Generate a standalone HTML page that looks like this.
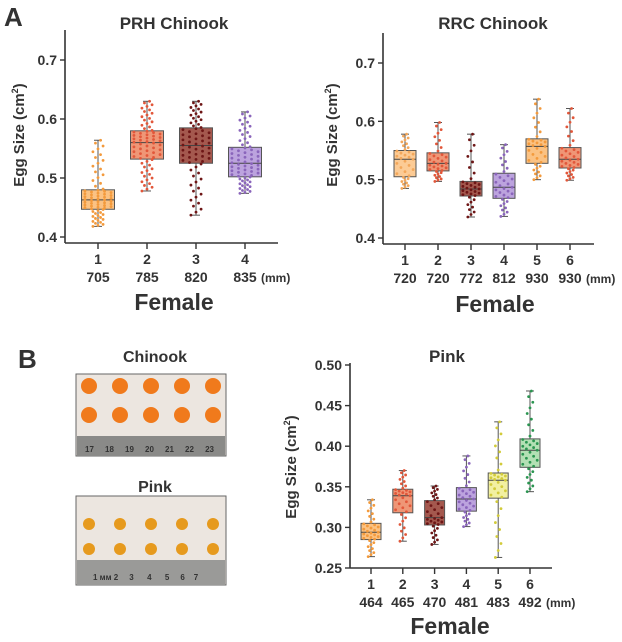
<!DOCTYPE html>
<html><head><meta charset="utf-8"><style>
html,body{margin:0;padding:0;background:#fff;}
svg text{font-family:"Liberation Sans",sans-serif;font-weight:bold;fill:#333;}
</style></head><body>
<svg id="fig" width="622" height="637" viewBox="0 0 622 637" xmlns="http://www.w3.org/2000/svg">
<text x="4" y="26" font-size="26" fill="#111">A</text>
<text x="18" y="368" font-size="26" fill="#111">B</text>
<g>
<text x="155" y="362" font-size="16" text-anchor="middle" fill="#444">Chinook</text>
<rect x="76" y="374" width="150" height="82" fill="#ece6e0" stroke="#666"/>
<rect x="77" y="436" width="148" height="20" fill="#8a8a88"/>
<text x="85" y="452" font-size="8" fill="#222" font-family="Liberation Serif">17 &#160;&#160;&#160;&#160;18 &#160;&#160;&#160;&#160;19 &#160;&#160;&#160;&#160;20 &#160;&#160;&#160;&#160;21 &#160;&#160;&#160;&#160;22 &#160;&#160;&#160;&#160;23</text>
<text x="155" y="492" font-size="16" text-anchor="middle" fill="#444">Pink</text>
<rect x="76" y="496" width="150" height="89" fill="#ece6e0" stroke="#666"/>
<rect x="77" y="560" width="148" height="25" fill="#9a9a98"/>
<text x="93" y="580" font-size="8" fill="#222">1 мм 2 &#160;&#160;&#160;&#160;3 &#160;&#160;&#160;&#160;&#160;4 &#160;&#160;&#160;&#160;&#160;5 &#160;&#160;&#160;&#160;6 &#160;&#160;&#160;7</text>
<g id="eggs"></g>
</g>
</svg>
<script>
// PRH Chinook data
const prhCats = ["1","2","3","4"];
const prhLens = ["705","785","820","835"];
const prhMin = [0.418,0.478,0.437,0.474];
const prhQ1  = [0.447,0.532,0.525,0.502];
const prhMed = [0.463,0.560,0.555,0.525];
const prhQ3  = [0.480,0.580,0.585,0.552];
const prhMax = [0.564,0.630,0.630,0.612];
const prhTicks = [0.4,0.5,0.6,0.7];
// RRC Chinook data
const rrcCats = ["1","2","3","4","5","6"];
const rrcLens = ["720","720","772","812","930","930"];
const rrcMin = [0.485,0.497,0.436,0.437,0.500,0.499];
const rrcQ1  = [0.505,0.515,0.472,0.468,0.528,0.520];
const rrcMed = [0.535,0.528,0.484,0.487,0.557,0.535];
const rrcQ3  = [0.550,0.546,0.497,0.511,0.570,0.555];
const rrcMax = [0.578,0.598,0.578,0.560,0.638,0.622];
const rrcTicks = [0.4,0.5,0.6,0.7];
// Pink data
const pinkCats = ["1","2","3","4","5","6"];
const pinkLens = ["464","465","470","481","483","492"];
const pinkMin = [0.264,0.283,0.279,0.301,0.263,0.344];
const pinkQ1  = [0.285,0.318,0.303,0.320,0.336,0.374];
const pinkMed = [0.294,0.339,0.312,0.335,0.358,0.395];
const pinkQ3  = [0.305,0.347,0.333,0.349,0.367,0.409];
const pinkMax = [0.334,0.370,0.351,0.388,0.430,0.468];
const pinkTicks = [0.25,0.30,0.35,0.40,0.45,0.50];

const NS="http://www.w3.org/2000/svg";
const svg=document.getElementById('fig');
function mk(tag,attrs,parent){const e=document.createElementNS(NS,tag);for(const k in attrs)e.setAttribute(k,attrs[k]);(parent||svg).appendChild(e);return e;}

const C={orange:["#f39a3c","#fbc283"],red:["#e2573a","#ef9676"],dark:["#6e1616","#a4584e"],purple:["#8a65bb","#bca3de"],lorange:["#f3a75a","#fccb95"],yellow:["#d2cb3a","#f2f0a2"],green:["#2a9550","#b3e0b4"]};

function chart(o){
  const g=mk('g',{});
  
  
  const y=v=>o.y0+(v-o.v0)/(o.v1-o.v0)*(o.y1-o.y0);
  const x=i=>o.xs0+i*o.dx;
  const ya=mk('line',{x1:o.ax,y1:o.top,x2:o.ax,y2:o.ay,stroke:"#333","stroke-width":1.6},g);
  
  const xa=mk('line',{x1:o.ax,y1:o.ay,x2:o.axEnd,y2:o.ay,stroke:"#333","stroke-width":1.6},g);
  
  o.ticks.forEach(t=>{
    mk('line',{x1:o.ax-5,y1:y(t),x2:o.ax,y2:y(t),stroke:"#333","stroke-width":1.4},g);
    const tl=mk('text',{x:o.ax-8,y:y(t)+5,"font-size":14,"text-anchor":"end"},g);
    tl.textContent=t.toFixed(o.dec);
    
  });
  const tt=mk('text',{x:o.tx,y:o.ty,"font-size":17,"text-anchor":"middle",fill:"#444"},g);
  tt.textContent=o.title;
  
  const yt=mk('text',{x:0,y:0,"font-size":15,"text-anchor":"middle",transform:`translate(${o.ytx},${o.yty}) rotate(-90)`},g);
  yt.innerHTML='Egg Size (cm<tspan font-size="9" dy="-6">2</tspan><tspan dy="6">)</tspan>';
  
  const ft=mk('text',{x:o.ftx,y:o.fty,"font-size":23,"text-anchor":"middle",fill:"#222"},g);
  ft.textContent="Female";
  
  o.cats.forEach((c,i)=>{
    const cx=x(i);
    mk('line',{x1:cx,y1:o.ay,x2:cx,y2:o.ay+6,stroke:"#333","stroke-width":1.4},g);
    const l1=mk('text',{x:cx,y:o.ay+21,"font-size":14,"text-anchor":"middle"},g);l1.textContent=c;
    
    const l2=mk('text',{x:cx,y:o.ay+39,"font-size":14,"text-anchor":"middle"},g);l2.textContent=o.lens[i];
    
    if(i===o.cats.length-1){const mm=mk('text',{x:cx+16,y:o.ay+39,"font-size":12},g);mm.textContent="(mm)";
      }
    const col=C[o.cols[i]];const hw=o.bw/2;
    const bg=mk('g',{},g);
    
    mk('line',{x1:cx,y1:y(o.mn[i]),x2:cx,y2:y(o.mx[i]),stroke:"#555","stroke-width":1},bg);
    mk('line',{x1:cx-4,y1:y(o.mn[i]),x2:cx+4,y2:y(o.mn[i]),stroke:"#555","stroke-width":1},bg);
    mk('line',{x1:cx-4,y1:y(o.mx[i]),x2:cx+4,y2:y(o.mx[i]),stroke:"#555","stroke-width":1},bg);
    mk('rect',{x:cx-hw,y:y(o.q3[i]),width:o.bw,height:y(o.q1[i])-y(o.q3[i]),fill:col[1],stroke:"#555","stroke-width":1},bg);
    mk('line',{x1:cx-hw,y1:y(o.md[i]),x2:cx+hw,y2:y(o.md[i]),stroke:"#444","stroke-width":1},bg);
    const n=o.n;const q=[o.mn[i],o.q1[i],o.md[i],o.q3[i],o.mx[i]];
    for(let k=0;k<n;k++){
      const p=k/(n-1)*4;const s=Math.min(3,Math.floor(p));const f=p-s;
      const v=q[s]+(q[s+1]-q[s])*f;
      const inBox=(s===1||s===2);
      const off=((k*7)%5-2)/2*(hw-2)*(inBox?0.9:0.35);
      const d=mk('circle',{cx:cx+off,cy:y(v),r:1.4,fill:col[0]},bg);
      
      
    }
  });
}
chart({name:"prh-chinook-chart",cats:prhCats,lens:prhLens,mn:prhMin,q1:prhQ1,md:prhMed,q3:prhQ3,mx:prhMax,ticks:prhTicks,dec:1,
  v0:0.4,v1:0.7,y0:237,y1:60,ax:65,axEnd:278,ay:243,top:30,xs0:98,dx:49,bw:33,n:70,
  cols:["orange","red","dark","purple"],title:"PRH Chinook",tx:174,ty:29,ytx:24,yty:135,ftx:174,fty:310});
chart({name:"rrc-chinook-chart",cats:rrcCats,lens:rrcLens,mn:rrcMin,q1:rrcQ1,md:rrcMed,q3:rrcQ3,mx:rrcMax,ticks:rrcTicks,dec:1,
  v0:0.4,v1:0.7,y0:238,y1:63,ax:383,axEnd:594,ay:244,top:33,xs0:405,dx:33,bw:22,n:35,
  cols:["lorange","red","dark","purple","orange","red"],title:"RRC Chinook",tx:493,ty:29,ytx:337,yty:135,ftx:495,fty:312});
chart({name:"pink-chart",cats:pinkCats,lens:pinkLens,mn:pinkMin,q1:pinkQ1,md:pinkMed,q3:pinkQ3,mx:pinkMax,ticks:pinkTicks,dec:2,
  v0:0.25,v1:0.5,y0:568,y1:365,ax:350,axEnd:552,ay:568,top:363,xs0:371,dx:31.8,bw:20,n:35,
  cols:["orange","red","dark","purple","yellow","green"],title:"Pink",tx:447,ty:362,ytx:296,yty:467,ftx:450,fty:634});
const eg=document.getElementById('eggs');
[[386,"#f07a1c",8],[524,"#e69a1e",6]].forEach(([yy,col,r],row)=>{
  for(let j=0;j<2;j++)for(let i=0;i<5;i++){
    const e=mk('circle',{cx:89+i*31,cy:yy+j*(row?25:29),r:r,fill:col},eg);
    
    
  }
});
</script>
</body></html>
